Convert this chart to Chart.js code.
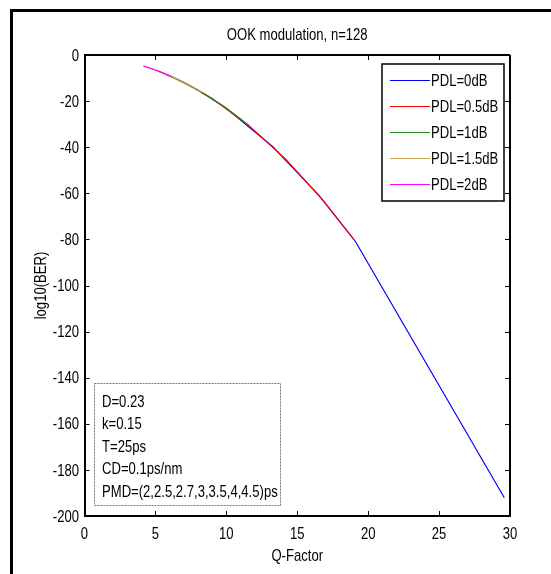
<!DOCTYPE html>
<html><head><meta charset="utf-8">
<script src="https://cdn.jsdelivr.net/npm/chart.js@4.4.1/dist/chart.umd.min.js"></script>
<style>html,body{margin:0;padding:0;background:#fff;}canvas{display:block;}</style>
</head><body>
<canvas id="c" width="551" height="574"></canvas>
<script>
const FONT = "'Liberation Sans',Arial,sans-serif";
const NARROW = 0.77;
const chartTitle = 'OOK modulation, n=128';
const xTitle = 'Q-Factor';
const yTitle = 'log10(BER)';
const xTicks = [0, 5, 10, 15, 20, 25, 30];
const yTicks = [0, -20, -40, -60, -80, -100, -120, -140, -160, -180, -200];
const seriesNames = ['PDL=0dB', 'PDL=0.5dB', 'PDL=1dB', 'PDL=1.5dB', 'PDL=2dB'];
const seriesColors = ['#0000ff', '#ff0000', '#1e8c1e', '#c8a050', '#ff00ff'];

const qPdl0 = [6.5, 8.0, 10.0, 13.3, 16.5, 19.1, 29.6];
const berPdl0 = [-10.4, -15.2, -23.1, -39.9, -60.7, -80.9, -192.1];
const qPdl05 = [5.8, 7.2, 9.0, 11.6, 14.2, 16.8, 19.0];
const berPdl05 = [-8.5, -12.5, -18.9, -30.7, -45.3, -62.9, -80.1];
const qPdl1 = [5.2, 6.3, 7.4, 8.5, 9.6, 10.6, 11.55];
const berPdl1 = [-7.0, -9.8, -13.2, -17.0, -21.4, -25.8, -30.4];
const qPdl15 = [4.6, 5.2, 5.8, 6.4, 7.0, 7.6, 8.3];
const berPdl15 = [-5.7, -7.0, -8.5, -10.1, -11.9, -13.8, -16.3];
const qPdl2 = [4.15, 4.5, 4.85, 5.15, 5.5, 5.85, 6.15];
const berPdl2 = [-4.7, -5.45, -6.2, -6.9, -7.7, -8.6, -9.4];

const infoLines = ['D=0.23', 'k=0.15', 'T=25ps', 'CD=0.1ps/nm', 'PMD=(2,2.5,2.7,3,3.5,4,4.5)ps'];

const qSets = [qPdl0, qPdl05, qPdl1, qPdl15, qPdl2];
const berSets = [berPdl0, berPdl05, berPdl1, berPdl15, berPdl2];

const datasets = seriesNames.map((name, i) => ({
  label: name,
  data: qSets[i].map((q, j) => ({x: q, y: berSets[i][j]})),
  showLine: true,
  borderColor: seriesColors[i],
  backgroundColor: seriesColors[i],
  borderWidth: 1.2,
  pointRadius: 0,
  tension: 0,
  order: seriesNames.length - 1 - i
}));

function narrowText(ctx, text, x, y, align, rot) {
  ctx.save();
  ctx.translate(x, y);
  if (rot) ctx.rotate(rot);
  ctx.scale(NARROW, 1);
  ctx.textAlign = align;
  ctx.textBaseline = 'middle';
  ctx.fillText(text, 0, 0);
  ctx.restore();
}

const decor = {
  id: 'decor',
  afterDraw(chart) {
    const ctx = chart.ctx;
    const {left, right, top, bottom} = chart.chartArea;
    const xs = chart.scales.x, ys = chart.scales.y;
    ctx.save();
    // outer frame
    ctx.fillStyle = '#000';
    ctx.fillRect(10, 9, 541, 3);
    ctx.fillRect(10, 9, 3, 565);
    // box lines
    ctx.strokeStyle = '#000';
    ctx.lineWidth = 2;
    ctx.beginPath();
    ctx.moveTo(left, top); ctx.lineTo(right, top);
    ctx.moveTo(right, top); ctx.lineTo(right, bottom);
    ctx.stroke();
    // inward ticks
    ctx.lineWidth = 1;
    ctx.beginPath();
    xTicks.forEach(v => {
      const px = Math.round(xs.getPixelForValue(v)) + 0.5;
      ctx.moveTo(px, bottom); ctx.lineTo(px, bottom - 5);
      ctx.moveTo(px, top); ctx.lineTo(px, top + 5);
    });
    yTicks.forEach(v => {
      const py = Math.round(ys.getPixelForValue(v)) + 0.5;
      ctx.moveTo(left, py); ctx.lineTo(left + 5, py);
      ctx.moveTo(right, py); ctx.lineTo(right - 5, py);
    });
    ctx.stroke();
    // tick labels
    ctx.fillStyle = '#000';
    ctx.font = '17px ' + FONT;
    xTicks.forEach(v => narrowText(ctx, String(v), xs.getPixelForValue(v), 534, 'center'));
    yTicks.forEach(v => narrowText(ctx, String(v), 79, ys.getPixelForValue(v) + 1, 'right'));
    // titles
    narrowText(ctx, chartTitle, (left + right) / 2, 35, 'center');
    narrowText(ctx, xTitle, (left + right) / 2, 556, 'center');
    narrowText(ctx, yTitle, 41, (top + bottom) / 2, 'center', -Math.PI / 2);
    // legend
    const lx = 382, ly = 64, lw = 122, lh = 137;
    ctx.fillStyle = '#fff';
    ctx.fillRect(lx, ly, lw, lh);
    ctx.strokeStyle = '#000';
    ctx.lineWidth = 1.5;
    ctx.strokeRect(lx, ly, lw, lh);
    chart.data.datasets.forEach((ds, i) => {
      const yy = 80 + 26 * i;
      ctx.strokeStyle = ds.borderColor;
      ctx.lineWidth = 1.2;
      ctx.beginPath();
      ctx.moveTo(390, yy + 0.5); ctx.lineTo(430, yy + 0.5);
      ctx.stroke();
      ctx.fillStyle = '#000';
      narrowText(ctx, ds.label, 431, yy + 1, 'left');
    });
    // info box
    const bx = 94, by = 383, bw = 186, bh = 122;
    ctx.fillStyle = '#fff';
    ctx.fillRect(bx, by, bw, bh);
    ctx.strokeStyle = '#777';
    ctx.lineWidth = 1;
    ctx.setLineDash([2, 1]);
    ctx.strokeRect(bx + 0.5, by + 0.5, bw, bh);
    ctx.setLineDash([]);
    ctx.fillStyle = '#000';
    infoLines.forEach((t, i) => narrowText(ctx, t, 102, 402 + 22.5 * i, 'left'));
    ctx.restore();
  }
};

new Chart(document.getElementById('c'), {
  type: 'scatter',
  data: {datasets},
  options: {
    responsive: false,
    animation: false,
    devicePixelRatio: 1,
    layout: {padding: {top: 55, right: 41, bottom: 0, left: 0}},
    plugins: {legend: {display: false}, title: {display: false}, tooltip: {enabled: false}},
    scales: {
      x: {
        type: 'linear', min: 0, max: 30,
        afterBuildTicks: s => { s.ticks = xTicks.map(v => ({value: v})); },
        afterFit: s => { s.height = 58; },
        grid: {display: false},
        border: {display: true, color: '#000', width: 2},
        ticks: {display: false}
      },
      y: {
        type: 'linear', min: -200, max: 0,
        afterBuildTicks: s => { s.ticks = yTicks.map(v => ({value: v})); },
        afterFit: s => { s.width = 84.5; },
        grid: {display: false},
        border: {display: true, color: '#000', width: 2},
        ticks: {display: false}
      }
    }
  },
  plugins: [decor]
});
</script>
</body></html>
